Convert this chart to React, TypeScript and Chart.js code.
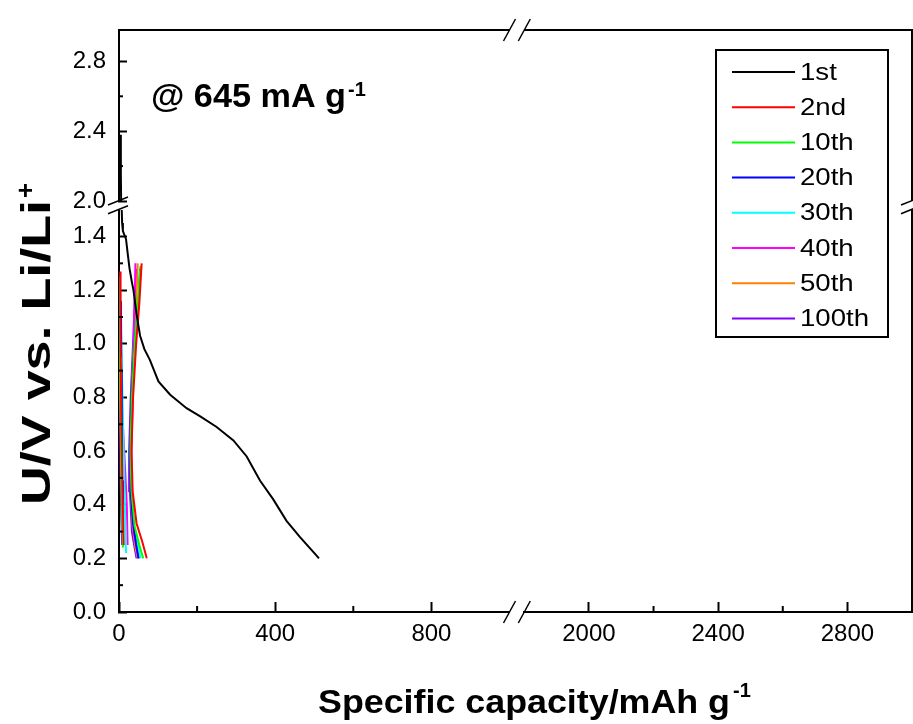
import React, { useEffect, useRef } from 'react';
import { Chart, registerables } from 'chart.js';

Chart.register(...registerables);

const FONT = "'Liberation Sans', Arial, Helvetica, sans-serif";

// ---------------- data ----------------
const SERIES_LABELS = ['1st', '2nd', '10th', '20th', '30th', '40th', '50th', '100th'];
const SERIES_COLORS = ['#000000', '#FF0000', '#00FF00', '#0000FF', '#00FFFF', '#FF00FF', '#FF8000', '#8000FF'];

// capacity (mAh g-1) / voltage (V); null = pen lift
const CAP_1ST = [4, 4.5, 5, 5.5, 7, 8, 10, 18, 22, 27, 33, 37, 45, 54, 65, 79, 101, 131, 173, 207, 250, 293, 327, 361, 395, 429, 463, 506, 512];
const U_1ST = [2.38, 2.3, 2.15, 2.0, 1.5, 1.45, 1.42, 1.39, 1.34, 1.28, 1.23, 1.2, 1.11, 1.03, 0.98, 0.94, 0.86, 0.81, 0.76, 0.73, 0.69, 0.64, 0.58, 0.49, 0.42, 0.34, 0.28, 0.21, 0.2];

const CAP_2ND = [3, 4, 6, 9, 12, null, 71, 60, 45, 35, 32, 36, 44, 52, 58];
const U_2ND = [1.27, 1.0, 0.7, 0.45, 0.25, null, 0.2, 0.26, 0.33, 0.45, 0.6, 0.8, 1.0, 1.15, 1.3];

const CAP_10TH = [2, 3, 5, 8, 10, null, 62, 52, 40, 32, 29, 33, 40, 48, 55];
const U_10TH = [1.25, 0.95, 0.65, 0.4, 0.24, null, 0.2, 0.25, 0.32, 0.45, 0.6, 0.8, 1.0, 1.15, 1.29];

const CAP_20TH = [5, 6, 7, 8, 10, null, 50, 44, 36, 30, 28, 32, 40, 50, 54];
const U_20TH = [1.16, 0.9, 0.7, 0.49, 0.3, null, 0.2, 0.25, 0.33, 0.45, 0.6, 0.8, 1.0, 1.15, 1.28];

const CAP_30TH = [3, 8, 12, 15, 18, null, 55, 48, 38, 32, 30, 34, 42, 50, 56];
const U_30TH = [1.2, 0.85, 0.6, 0.4, 0.22, null, 0.2, 0.25, 0.32, 0.45, 0.6, 0.8, 1.0, 1.15, 1.28];

const CAP_40TH = [2, 4, 8, 15, 20, 22, null, 50, 45, 38, 33, 32, 35, 38, 40, 42];
const U_40TH = [1.22, 1.0, 0.75, 0.55, 0.4, 0.25, null, 0.2, 0.24, 0.3, 0.45, 0.6, 0.8, 1.0, 1.15, 1.3];

const CAP_50TH = [0.5, 1, 3, 5, 7, 9, null, 48, 42, 35, 30, 28, 32, 38, 44, 48];
const U_50TH = [1.2, 1.0, 0.85, 0.6, 0.4, 0.3, null, 0.2, 0.24, 0.32, 0.45, 0.6, 0.8, 1.0, 1.15, 1.3];

const CAP_100TH = [1, 2, 3, 4, 6, 8, null, 45, 40, 33, 28, 26, 30, 36, 40, 44];
const U_100TH = [1.25, 1.0, 0.75, 0.5, 0.35, 0.25, null, 0.2, 0.24, 0.3, 0.45, 0.6, 0.8, 1.0, 1.15, 1.28];

const CYCLE_CAPS = [CAP_2ND, CAP_10TH, CAP_20TH, CAP_30TH, CAP_40TH, CAP_50TH, CAP_100TH];
const CYCLE_US = [U_2ND, U_10TH, U_20TH, U_30TH, U_40TH, U_50TH, U_100TH];

// axes (broken)
const X_LEFT_RANGE = [0, 1000];
const X_RIGHT_RANGE = [1800, 3000];
const Y_LOW_RANGE = [0, 1.5];
const Y_HIGH_RANGE = [2.0, 2.98];

const X_TICKS_LEFT = [0, 400, 800];
const X_TICKS_RIGHT = [2000, 2400, 2800];
const X_MINOR_LEFT = [200, 600];
const X_MINOR_RIGHT = [2200, 2600];
const Y_TICKS_LOW = [0, 0.2, 0.4, 0.6, 0.8, 1.0, 1.2, 1.4];
const Y_TICKS_HIGH = [2.0, 2.4, 2.8];
const Y_MINOR_LOW = [0.1, 0.3, 0.5, 0.7, 0.9, 1.1, 1.3];
const Y_MINOR_HIGH = [2.2, 2.6];

const RATE_TEXT = '@ 645 mA g';
const RATE_SUP = '-1';
const X_TITLE = 'Specific capacity/mAh g';
const X_TITLE_SUP = '-1';
const Y_TITLE = 'U/V vs. Li/Li';
const Y_TITLE_SUP = '+';

// ---------------- helpers ----------------
type Pt = { x: number | null; y: number | null };

function toPoints(caps: (number | null)[], us: (number | null)[], keep?: (u: number) => boolean): Pt[] {
  return caps.map((c, i) => {
    const u = us[i];
    if (c === null || u === null) return { x: null, y: null };
    if (keep && !keep(u)) return { x: null, y: null };
    return { x: c, y: u };
  });
}

function drawFitted(ctx: CanvasRenderingContext2D, text: string, x: number, y: number, font: string, target?: number, stretch?: number) {
  ctx.font = font;
  const w = ctx.measureText(text).width;
  const sx = target ? target / w : (stretch || 1);
  ctx.save();
  ctx.translate(x, y);
  ctx.scale(sx, 1);
  ctx.fillText(text, 0, 0);
  ctx.restore();
  return w * sx;
}

const decorPlugin = {
  id: 'decor',
  afterDraw(chart: any) {
    const ctx: CanvasRenderingContext2D = chart.ctx;
    const a = chart.chartArea;
    const s = chart.scales;
    const seg = (x1: number, y1: number, x2: number, y2: number) => {
      ctx.beginPath();
      ctx.moveTo(x1, y1);
      ctx.lineTo(x2, y2);
      ctx.stroke();
    };
    ctx.save();
    ctx.strokeStyle = '#000';
    ctx.fillStyle = '#000';
    ctx.lineWidth = 2;
    ctx.lineCap = 'butt';

    // top and right frame (broken)
    seg(a.left - 1, a.top, s.xL.right, a.top);
    seg(s.xR.left, a.top, a.right + 1, a.top);
    seg(a.right, a.top, a.right, s.yHi.bottom);
    seg(a.right, s.yLo.top, a.right, a.bottom + 1);

    // minor ticks
    X_MINOR_LEFT.forEach((v) => { const p = s.xL.getPixelForValue(v); seg(p, a.bottom, p, a.bottom - 6); });
    X_MINOR_RIGHT.forEach((v) => { const p = s.xR.getPixelForValue(v); seg(p, a.bottom, p, a.bottom - 6); });
    Y_MINOR_LOW.forEach((v) => { const p = s.yLo.getPixelForValue(v); seg(a.left - 1, p, a.left + 4, p); });
    Y_MINOR_HIGH.forEach((v) => { const p = s.yHi.getPixelForValue(v); seg(a.left - 1, p, a.left + 4, p); });

    // break marks
    ctx.lineWidth = 1.5;
    [s.xL.right, s.xR.left].forEach((bx: number) => {
      seg(bx - 6, a.bottom + 11, bx + 6, a.bottom - 11);
      seg(bx - 6, a.top + 11, bx + 6, a.top - 11);
    });
    [s.yHi.bottom, s.yLo.top].forEach((by: number) => {
      seg(a.left - 11, by + 4, a.left + 9, by - 4);
      seg(a.right - 11, by + 4, a.right + 9, by - 4);
    });

    // rate annotation
    ctx.fillStyle = '#000';
    ctx.textBaseline = 'alphabetic';
    ctx.textAlign = 'left';
    const rw = drawFitted(ctx, RATE_TEXT, 151, 107, `bold 33px ${FONT}`, 195);
    drawFitted(ctx, RATE_SUP, 151 + rw + 2, 96, `bold 20px ${FONT}`);

    // x title
    const xw = drawFitted(ctx, X_TITLE, 318, 713, `bold 34px ${FONT}`, 412);
    drawFitted(ctx, X_TITLE_SUP, 318 + xw + 3, 697, `bold 20px ${FONT}`);

    // y title
    ctx.save();
    ctx.translate(50, 505);
    ctx.rotate(-Math.PI / 2);
    const yw = drawFitted(ctx, Y_TITLE, 0, 0, `bold 40px ${FONT}`, 305);
    drawFitted(ctx, Y_TITLE_SUP, yw + 2, -16, `bold 26px ${FONT}`);
    ctx.restore();

    // legend
    const lx = 716, ly = 50, lw = 172, lh = 287;
    ctx.lineWidth = 2;
    ctx.strokeStyle = '#000';
    ctx.strokeRect(lx, ly, lw, lh);
    ctx.textBaseline = 'middle';
    SERIES_LABELS.forEach((lab, i) => {
      const y = ly + 22 + i * 35.2;
      ctx.strokeStyle = SERIES_COLORS[i];
      ctx.lineWidth = 2;
      seg(lx + 16, y, lx + 79, y);
      ctx.fillStyle = '#000';
      drawFitted(ctx, lab, lx + 84, y + 1, `24px ${FONT}`, undefined, 1.15);
    });
    ctx.restore();
  },
};

const tickFont = { family: FONT, size: 24 };

function xScale(range: number[], ticks: number[], weight: number) {
  return {
    type: 'linear',
    position: 'bottom',
    stack: 'x',
    stackWeight: weight,
    min: range[0],
    max: range[1],
    grid: { display: true, drawOnChartArea: false, drawTicks: true, tickLength: -10, tickWidth: 2, tickColor: '#000' },
    border: { display: true, color: '#000', width: 2 },
    ticks: { font: tickFont, color: '#000', padding: 18, maxRotation: 0, minRotation: 0, autoSkip: false, callback: (v: any) => String(v) },
    afterBuildTicks: (sc: any) => { sc.ticks = ticks.map((v) => ({ value: v })); },
    afterFit: (sc: any) => { sc.height = 112; sc.paddingLeft = 0; sc.paddingRight = 0; },
  };
}

function yScale(range: number[], ticks: number[], weight: number) {
  return {
    type: 'linear',
    position: 'left',
    stack: 'y',
    stackWeight: weight,
    min: range[0],
    max: range[1],
    grid: { display: true, drawOnChartArea: false, drawTicks: true, tickLength: -8, tickWidth: 2, tickColor: '#000' },
    border: { display: true, color: '#000', width: 2 },
    ticks: { font: tickFont, color: '#000', padding: 21, autoSkip: false, callback: (v: any) => Number(v).toFixed(1) },
    afterBuildTicks: (sc: any) => { sc.ticks = ticks.map((v) => ({ value: v })); },
    afterFit: (sc: any) => { sc.width = 119; sc.paddingTop = 0; sc.paddingBottom = 0; },
  };
}

export default function App() {
  const ref = useRef<HTMLCanvasElement | null>(null);

  useEffect(() => {
    if (!ref.current) return;
    const common = { showLine: true, pointRadius: 0, borderWidth: 2, tension: 0, spanGaps: false, fill: false, xAxisID: 'xL' };
    const datasets: any[] = [
      { ...common, label: SERIES_LABELS[0], data: toPoints(CAP_1ST, U_1ST, (u) => u <= Y_LOW_RANGE[1]), borderColor: SERIES_COLORS[0], yAxisID: 'yLo' },
      { ...common, label: SERIES_LABELS[0] + ' (upper)', data: toPoints(CAP_1ST, U_1ST, (u) => u >= Y_HIGH_RANGE[0]), borderColor: SERIES_COLORS[0], yAxisID: 'yHi' },
    ];
    CYCLE_CAPS.forEach((caps, i) => {
      datasets.push({ ...common, label: SERIES_LABELS[i + 1], data: toPoints(caps, CYCLE_US[i]), borderColor: SERIES_COLORS[i + 1], yAxisID: 'yLo' });
    });

    const chart = new Chart(ref.current, {
      type: 'scatter',
      data: { datasets },
      options: {
        animation: false,
        responsive: false,
        devicePixelRatio: 1,
        events: [],
        layout: { padding: { top: 30, right: 1, bottom: 0, left: 0 } },
        plugins: { legend: { display: false }, tooltip: { enabled: false }, title: { display: false } },
        scales: {
          xL: xScale(X_LEFT_RANGE, X_TICKS_LEFT, 390.5),
          xGap: { type: 'linear', position: 'bottom', stack: 'x', stackWeight: 14.8, display: false, min: 0, max: 1 },
          xR: xScale(X_RIGHT_RANGE, X_TICKS_RIGHT, 387.7),
          yLo: yScale(Y_LOW_RANGE, Y_TICKS_LOW, 402.3),
          yGap: { type: 'linear', position: 'left', stack: 'y', stackWeight: 8.7, display: false, min: 0, max: 1 },
          yHi: yScale(Y_HIGH_RANGE, Y_TICKS_HIGH, 171),
        },
      } as any,
      plugins: [decorPlugin],
    });
    return () => chart.destroy();
  }, []);

  return (
    <div style={{ position: 'fixed', left: 0, top: 0, width: 913, height: 724, background: '#fff' }}>
      <canvas ref={ref} width={913} height={724} style={{ display: 'block', width: 913, height: 724 }} />
    </div>
  );
}
